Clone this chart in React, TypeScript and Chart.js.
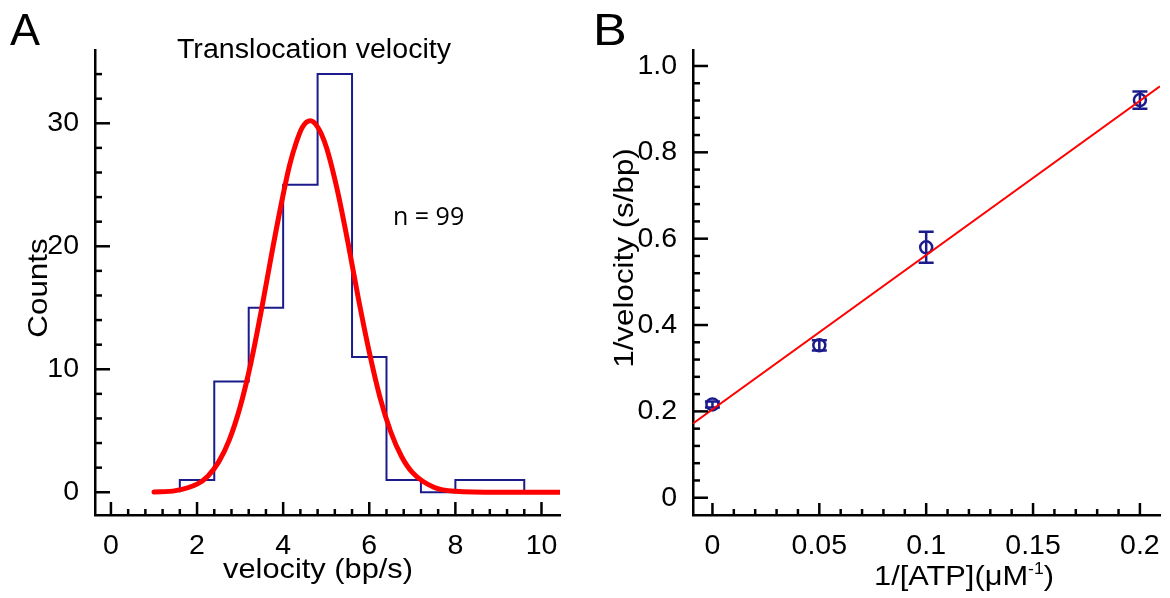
import React, { useEffect, useRef } from 'react';
import { Chart, registerables } from 'chart.js';

Chart.register(...registerables);

const NAVY = '#1b1b8c';
const RED = '#ff0000';
const SANS = '"Liberation Sans", Arial, sans-serif';

// ---------- Panel A: histogram of translocation velocity ----------
const binEdges = [1.6, 2.4, 3.2, 4.0, 4.8, 5.6, 6.4, 7.2, 8.0, 8.8, 9.6];
const binCounts = [1, 9, 15, 25, 34, 11, 1, 0, 1, 1];
// Gaussian fit curve
const fitAX = [1.0, 1.5, 2.0, 2.25, 2.5, 2.75, 3.0, 3.25, 3.5, 3.75, 4.0, 4.15, 4.3, 4.45, 4.63, 4.8, 5.0, 5.25, 5.5, 5.75, 6.0, 6.25, 6.5, 6.75, 7.0, 7.5, 8.0, 9.0, 10.43];
const fitAY = [0.02, 0.13, 0.66, 1.31, 2.45, 4.26, 6.93, 10.5, 14.9, 19.7, 24.2, 26.6, 28.4, 29.7, 30.2, 29.7, 28.1, 24.7, 20.4, 15.7, 11.4, 7.7, 4.9, 2.91, 1.62, 0.41, 0.08, 0, 0];
const xTicksA = [0, 2, 4, 6, 8, 10];
const xTickLabelsA = ['0', '2', '4', '6', '8', '10'];
const yTicksA = [0, 10, 20, 30];
const yTickLabelsA = ['0', '10', '20', '30'];
const xMinorA = [0.4, 0.8, 1.2, 1.6, 2.4, 2.8, 3.2, 3.6, 4.4, 4.8, 5.2, 5.6, 6.4, 6.8, 7.2, 7.6, 8.4, 8.8, 9.2, 9.6];
const yMinorA = [2, 4, 6, 8, 12, 14, 16, 18, 22, 24, 26, 28, 32, 34];

// ---------- Panel B: double reciprocal plot ----------
const atpInv = [0, 0.05, 0.1, 0.2];
const invVel = [0.216, 0.353, 0.58, 0.921];
const invVelErr = [0.007, 0.012, 0.036, 0.02];
const fitBX = [-0.0091, 0.2094];
const fitBY = [0.172, 0.953];
const xTicksB = [0, 0.05, 0.1, 0.15, 0.2];
const xTickLabelsB = ['0', '0.05', '0.1', '0.15', '0.2'];
const yTicksB = [0, 0.2, 0.4, 0.6, 0.8, 1.0];
const yTickLabelsB = ['0', '0.2', '0.4', '0.6', '0.8', '1.0'];
const xMinorB = [0.01, 0.02, 0.03, 0.04, 0.06, 0.07, 0.08, 0.09, 0.11, 0.12, 0.13, 0.14, 0.16, 0.17, 0.18, 0.19];
const yMinorB = [0.04, 0.08, 0.12, 0.16, 0.24, 0.28, 0.32, 0.36, 0.44, 0.48, 0.52, 0.56, 0.64, 0.68, 0.72, 0.76, 0.84, 0.88, 0.92, 0.96];

type TickCfg = { xMajor: number[]; xMinor: number[]; yMajor: number[]; yMinor: number[]; xLen: number[]; yLen: number[] };

function makeTickPlugin(cfg: TickCfg) {
  return {
    id: 'tickMarks',
    afterDraw(chart: any) {
      const { ctx, chartArea } = chart;
      const xs = chart.scales.x;
      const ys = chart.scales.y;
      ctx.save();
      ctx.strokeStyle = '#000';
      ctx.lineWidth = 2.5;
      const drawX = (vals: number[], len: number) => {
        for (const v of vals) {
          const p = xs.getPixelForValue(v);
          ctx.beginPath();
          ctx.moveTo(p, chartArea.bottom);
          ctx.lineTo(p, chartArea.bottom - len);
          ctx.stroke();
        }
      };
      const drawY = (vals: number[], len: number) => {
        for (const v of vals) {
          const p = ys.getPixelForValue(v);
          ctx.beginPath();
          ctx.moveTo(chartArea.left, p);
          ctx.lineTo(chartArea.left + len, p);
          ctx.stroke();
        }
      };
      drawX(cfg.xMajor, cfg.xLen[0]);
      drawX(cfg.xMinor, cfg.xLen[1]);
      drawY(cfg.yMajor, cfg.yLen[0]);
      drawY(cfg.yMinor, cfg.yLen[1]);
      ctx.restore();
    },
  };
}

type Part = { text: string; size: number; dy?: number };
type TextItem = {
  x: number;
  y: number;
  size: number;
  text?: string;
  parts?: Part[];
  align?: 'left' | 'center';
  rotate?: number;
  stretch?: number;
  family?: string;
};

function makeTextPlugin(items: TextItem[]) {
  return {
    id: 'texts',
    afterDraw(chart: any) {
      const { ctx } = chart;
      for (const it of items) {
        const fam = it.family || SANS;
        const parts: Part[] = it.parts || [{ text: it.text || '', size: it.size }];
        ctx.save();
        ctx.translate(it.x, it.y);
        if (it.rotate) ctx.rotate(it.rotate);
        if (it.stretch) ctx.scale(it.stretch, 1);
        ctx.fillStyle = '#000';
        ctx.textBaseline = 'alphabetic';
        ctx.textAlign = 'left';
        let total = 0;
        const widths = parts.map((p) => {
          ctx.font = `${p.size}px ${fam}`;
          const w = ctx.measureText(p.text).width;
          total += w;
          return w;
        });
        let cx = it.align === 'center' ? -total / 2 : 0;
        parts.forEach((p, i) => {
          ctx.font = `${p.size}px ${fam}`;
          ctx.fillText(p.text, cx, p.dy || 0);
          cx += widths[i];
        });
        ctx.restore();
      }
    },
  };
}

function makeErrorBarPlugin(datasetIndex: number, xs: number[], ys: number[], errs: number[]) {
  return {
    id: 'errorBars',
    afterDatasetDraw(chart: any, args: any) {
      if (args.index !== datasetIndex) return;
      const { ctx } = chart;
      const sx = chart.scales.x;
      const sy = chart.scales.y;
      ctx.save();
      ctx.strokeStyle = NAVY;
      ctx.lineWidth = 2.5;
      xs.forEach((xv, i) => {
        const px = sx.getPixelForValue(xv);
        const top = sy.getPixelForValue(ys[i] + errs[i]);
        const bot = sy.getPixelForValue(ys[i] - errs[i]);
        ctx.beginPath();
        ctx.moveTo(px, top);
        ctx.lineTo(px, bot);
        ctx.moveTo(px - 7.5, top);
        ctx.lineTo(px + 7.5, top);
        ctx.moveTo(px - 7.5, bot);
        ctx.lineTo(px + 7.5, bot);
        ctx.stroke();
      });
      ctx.restore();
    },
  };
}

function axis(min: number, max: number, ticks: number[], labels: string[], isX: boolean, size: number, pad: number) {
  return {
    type: 'linear',
    min,
    max,
    grid: { display: false },
    border: { display: true, color: '#000', width: 2.5 },
    afterBuildTicks: (s: any) => {
      s.ticks = ticks.map((v) => ({ value: v }));
    },
    afterFit: (s: any) => {
      if (isX) s.height = size;
      else s.width = size;
    },
    ticks: {
      font: { family: SANS, size: 28.5 },
      color: '#000',
      padding: pad,
      maxRotation: 0,
      autoSkip: false,
      callback: (v: number) => {
        const i = ticks.findIndex((t) => Math.abs(t - v) < 1e-9);
        return i >= 0 ? labels[i] : '';
      },
    },
  };
}

function buildConfigA(): any {
  const hist: { x: number; y: number }[] = [{ x: binEdges[0], y: 0 }];
  binCounts.forEach((c, i) => hist.push({ x: binEdges[i], y: c }));
  hist.push({ x: binEdges[binEdges.length - 1], y: 0 });
  const fit = fitAX.map((x, i) => ({ x, y: fitAY[i] }));
  return {
    type: 'line',
    data: {
      datasets: [
        { data: fit, borderColor: RED, borderWidth: 5, pointRadius: 0, fill: false, cubicInterpolationMode: 'monotone', borderCapStyle: 'round' },
        { data: hist, borderColor: NAVY, borderWidth: 2, pointRadius: 0, fill: false, stepped: 'before' },
      ],
    },
    options: {
      responsive: false,
      animation: false,
      events: [],
      layout: { padding: { top: 50, right: 25, left: 0, bottom: 0 } },
      plugins: { legend: { display: false }, tooltip: { enabled: false }, title: { display: false } },
      scales: {
        x: axis(-0.37, 10.43, xTicksA, xTickLabelsA, true, 83, 6),
        y: axis(-1.85, 35.96, yTicksA, yTickLabelsA, false, 95, 8),
      },
    },
    plugins: [
      makeTickPlugin({ xMajor: xTicksA, xMinor: xMinorA, yMajor: yTicksA, yMinor: yMinorA, xLen: [13, 6], yLen: [15, 7] }),
      makeTextPlugin([
        { text: 'A', x: 10, y: 45, size: 45 },
        { text: 'Translocation velocity', x: 314, y: 58, size: 27, stretch: 1.06, align: 'center' },
        { text: 'n = 99', x: 393, y: 225, size: 25, family: '"Open Sans", sans-serif' },
        { text: 'velocity (bp/s)', x: 318, y: 578, size: 28, stretch: 1.1, align: 'center' },
        { text: 'Counts', x: 47, y: 288, size: 28, stretch: 1.12, align: 'center', rotate: -Math.PI / 2 },
      ]),
    ],
  };
}

function buildConfigB(): any {
  const pts = atpInv.map((x, i) => ({ x, y: invVel[i] }));
  const fit = fitBX.map((x, i) => ({ x, y: fitBY[i] }));
  return {
    type: 'line',
    data: {
      datasets: [
        { data: fit, borderColor: RED, borderWidth: 2, pointRadius: 0, fill: false },
        { data: pts, showLine: false, borderColor: NAVY, backgroundColor: 'rgba(0,0,0,0)', pointRadius: 6, pointBorderWidth: 2.5, pointStyle: 'circle' },
      ],
    },
    options: {
      responsive: false,
      animation: false,
      events: [],
      layout: { padding: { top: 50, right: 10, left: 0, bottom: 0 } },
      plugins: { legend: { display: false }, tooltip: { enabled: false }, title: { display: false } },
      scales: {
        x: axis(-0.0091, 0.2094, xTicksB, xTickLabelsB, true, 83, 6),
        y: axis(-0.04, 1.037, yTicksB, yTickLabelsB, false, 108, 8),
      },
    },
    plugins: [
      makeTickPlugin({ xMajor: xTicksB, xMinor: xMinorB, yMajor: yTicksB, yMinor: yMinorB, xLen: [12, 6], yLen: [15, 7] }),
      makeErrorBarPlugin(1, atpInv, invVel, invVelErr),
      makeTextPlugin([
        { text: 'B', x: 8, y: 45, size: 44, stretch: 1.15 },
        { text: '1/velocity (s/bp)', x: 48, y: 258, size: 28, stretch: 1.12, align: 'center', rotate: -Math.PI / 2 },
        {
          x: 379,
          y: 585,
          size: 28,
          stretch: 1.1,
          align: 'center',
          parts: [
            { text: '1/[ATP](μM', size: 28 },
            { text: '-1', size: 16, dy: -11 },
            { text: ')', size: 28 },
          ],
        },
      ]),
    ],
  };
}

function ChartCanvas({ build, left }: { build: () => any; left: number }) {
  const ref = useRef<HTMLCanvasElement>(null);
  useEffect(() => {
    const chart = new Chart(ref.current as HTMLCanvasElement, build());
    return () => chart.destroy();
  }, [build]);
  return (
    <canvas
      ref={ref}
      width={585}
      height={598}
      style={{ position: 'absolute', left, top: 0, width: 585, height: 598 }}
    />
  );
}

export default function App() {
  return (
    <div style={{ position: 'fixed', left: 0, top: 0, width: 1170, height: 598, background: '#fff', overflow: 'hidden' }}>
      <ChartCanvas build={buildConfigA} left={0} />
      <ChartCanvas build={buildConfigB} left={585} />
    </div>
  );
}
